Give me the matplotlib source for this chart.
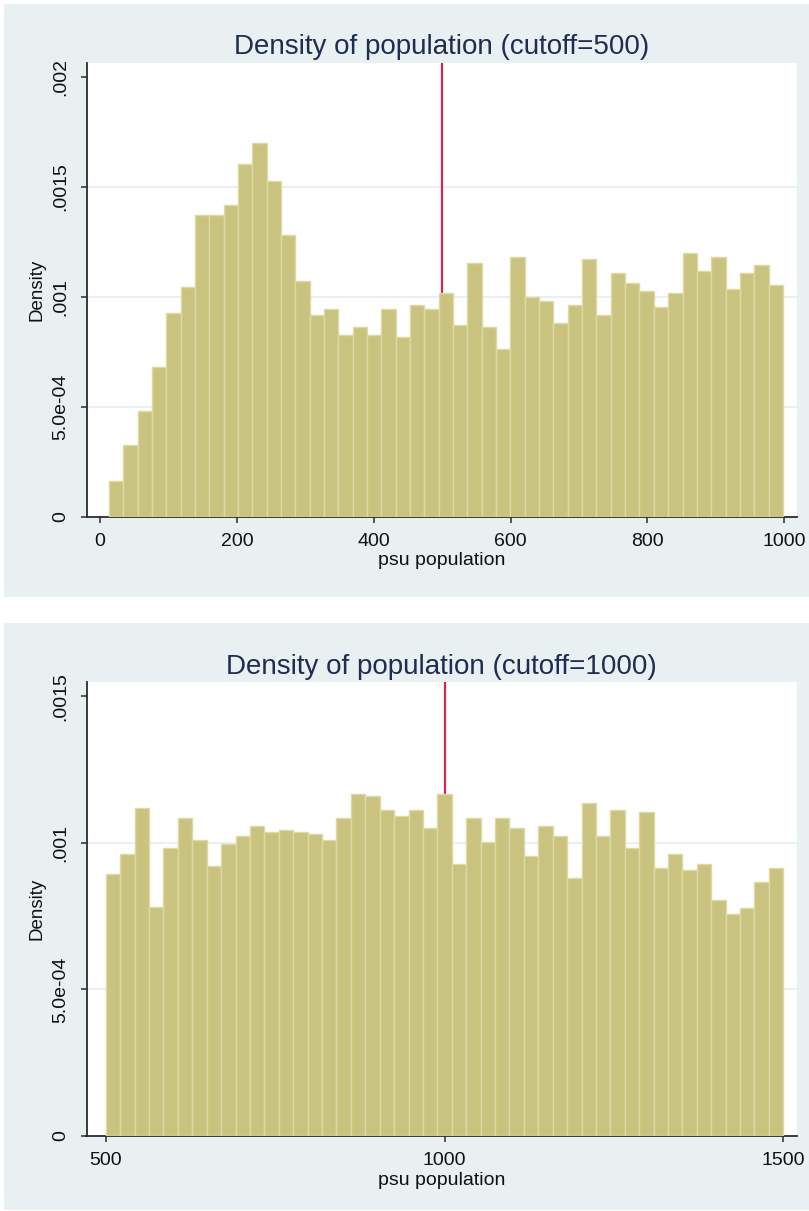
import numpy as np
import matplotlib
matplotlib.use("Agg")
import matplotlib.pyplot as plt
from matplotlib.patches import Rectangle

plt.rcParams['font.family'] = ['Liberation Sans', 'DejaVu Sans']

# ===== HISTOGRAM DATA =====
# cutoff = 500: 47 bins between 13 and 998
top_lo, top_hi = 13, 998
top_density = [0.000162, 0.000326, 0.000480, 0.000680, 0.000926, 0.001045, 0.001371,
               0.001371, 0.001418, 0.001602, 0.001700, 0.001527, 0.001282, 0.001073,
               0.000917, 0.000944, 0.000826, 0.000862, 0.000826, 0.000944, 0.000817,
               0.000962, 0.000944, 0.001018, 0.000871, 0.001155, 0.000862, 0.000764,
               0.001182, 0.001000, 0.000982, 0.000882, 0.000964, 0.001173, 0.000917,
               0.001109, 0.001064, 0.001027, 0.000955, 0.001018, 0.001200, 0.001118,
               0.001182, 0.001036, 0.001109, 0.001145, 0.001055]
top_cutoff = 500
top_xticks = [0, 200, 400, 600, 800, 1000]
top_yticks = [0, 0.0005, 0.001, 0.0015, 0.002]
top_ylabels = ["0", "5.0e-04", ".001", ".0015", ".002"]

# cutoff = 1000: 47 bins between 500 and 1500
bot_lo, bot_hi = 500, 1500
bot_density = [0.000894, 0.000961, 0.001119, 0.000780, 0.000983, 0.001085, 0.001010,
               0.000922, 0.000997, 0.001024, 0.001058, 0.001038, 0.001044, 0.001038,
               0.001031, 0.001010, 0.001085, 0.001167, 0.001160, 0.001113, 0.001092,
               0.001113, 0.001051, 0.001167, 0.000928, 0.001085, 0.001003, 0.001085,
               0.001051, 0.000956, 0.001058, 0.001024, 0.000881, 0.001134, 0.001024,
               0.001113, 0.000983, 0.001106, 0.000915, 0.000961, 0.000908, 0.000928,
               0.000806, 0.000758, 0.000778, 0.000867, 0.000915]
bot_cutoff = 1000
bot_xticks = [500, 1000, 1500]
bot_yticks = [0, 0.0005, 0.001, 0.0015]
bot_ylabels = ["0", "5.0e-04", ".001", ".0015"]

# ===== STYLE =====
W, H = 809, 1211
BG = "#e8f0f2"
BAR = "#c9c37f"
BAR_EDGE = "#dedaa6"
LINE = "#d0264f"
GRID = "#e3edf1"
TITLE_C = "#1f2d52"
AX_C = "#2b2b2b"

fig = plt.figure(figsize=(W / 100, H / 100), dpi=100)
fig.patch.set_facecolor("white")


def px_box(x0, y0, x1, y1):
    # pixel box (top-left origin) -> figure fraction [left, bottom, width, height]
    return [x0 / W, (H - y1) / H, (x1 - x0) / W, (y1 - y0) / H]


def panel(bg_box, ax_box, lo, hi, dens, cutoff, xlim, ylim, xticks, yticks, ylabels, grid_at, title):
    l, b, w, h = px_box(*bg_box)
    fig.patches.append(Rectangle((l, b), w, h, transform=fig.transFigure,
                                 facecolor=BG, edgecolor="none", zorder=-5))
    ax = fig.add_axes(px_box(*ax_box))
    ax.set_zorder(2)
    ax.set_facecolor("white")

    edges = np.linspace(lo, hi, len(dens) + 1)
    for g in grid_at:
        ax.axhline(g, color=GRID, lw=1.2, zorder=1)
    ax.axvline(cutoff, color=LINE, lw=1.6, zorder=2)
    ax.bar(edges[:-1], dens, width=np.diff(edges), align="edge",
           color=BAR, edgecolor=BAR_EDGE, linewidth=1.0, zorder=3)

    ax.set_xlim(*xlim)
    ax.set_ylim(*ylim)
    ax.set_xticks(xticks)
    ax.set_yticks(yticks)
    ax.set_yticklabels(ylabels)
    for s in ["top", "right"]:
        ax.spines[s].set_visible(False)
    for s in ["left", "bottom"]:
        ax.spines[s].set_color(AX_C)
        ax.spines[s].set_linewidth(1.3)
    ax.tick_params(axis="both", direction="out", length=4.5, width=1.1,
                   color=AX_C, labelsize=14, labelcolor="#111111")
    ax.tick_params(axis="x", pad=7)
    ax.tick_params(axis="y", pad=8, labelrotation=90)
    for t in ax.get_yticklabels():
        t.set_va("center")

    ax.set_title(title, fontsize=20, color=TITLE_C, pad=6)
    ax.set_xlabel("psu population", fontsize=14, color="#111111", labelpad=2)
    ax.set_ylabel("Density", fontsize=13.5, color="#111111", labelpad=5)
    return ax


panel((4, 4, 809, 597), (86.5, 62.5, 797, 516.7), top_lo, top_hi, top_density,
      top_cutoff, (-19.7, 1018.6), (0, 0.002065), top_xticks, top_yticks,
      top_ylabels, [0.0005, 0.001, 0.0015], "Density of population (cutoff=500)")

panel((4, 623, 809, 1210), (86.5, 682, 797, 1136), bot_lo, bot_hi, bot_density,
      bot_cutoff, (471.5, 1520.2), (0, 0.001548), bot_xticks, bot_yticks,
      bot_ylabels, [0.0005, 0.001], "Density of population (cutoff=1000)")

fig.savefig("out.png", dpi=100)
